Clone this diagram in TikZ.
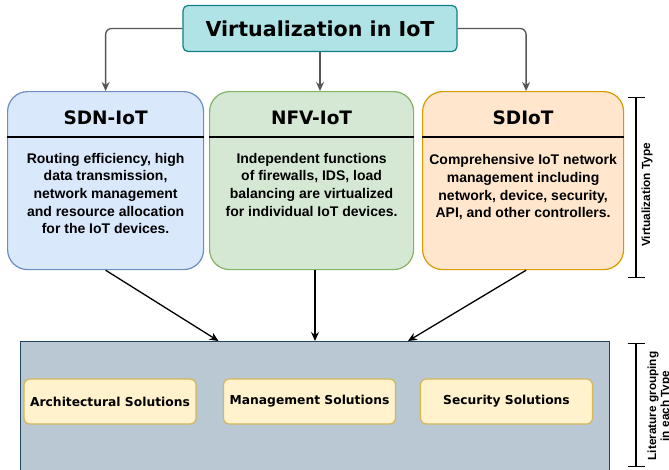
\documentclass[tikz,border=0pt]{standalone}
\usepackage{fontspec}
\setmainfont{Liberation Sans}
\newfontfamily\dvsans{DejaVu Sans}
\usetikzlibrary{arrows.meta}

\definecolor{titlefill}{HTML}{B0E3E6}
\definecolor{titleline}{HTML}{0E8088}
\definecolor{sdnfill}{HTML}{DAE8FC}
\definecolor{sdnline}{HTML}{6C8EBF}
\definecolor{nfvfill}{HTML}{D5E8D4}
\definecolor{nfvline}{HTML}{82B366}
\definecolor{sdiotfill}{HTML}{FFE6CC}
\definecolor{sdiotline}{HTML}{D79B00}
\definecolor{grpfill}{HTML}{BAC8D3}
\definecolor{grpline}{HTML}{23445D}
\definecolor{solfill}{HTML}{FFF2CC}
\definecolor{solline}{HTML}{D6B656}
\definecolor{connline}{HTML}{555555}

\tikzset{
  lane/.style={draw, line width=1.2pt, rounded corners=20pt, minimum width=196pt, minimum height=178pt, anchor=north west},
  head/.style={font=\dvsans\bfseries\fontsize{18.5}{22}\selectfont},
  body/.style={font=\bfseries\fontsize{14}{17.6}\selectfont, align=center, inner sep=0pt, anchor=north},
  sol/.style={draw=solline, fill=solfill, line width=1.2pt, rounded corners=6pt, minimum width=172pt, minimum height=45pt, font=\dvsans\bfseries\fontsize{12.3}{15}\selectfont},
  conn/.style={draw=connline, line width=1.3pt, rounded corners=6pt, -{Stealth[length=9pt, width=8pt]}},
  flow/.style={draw=black, line width=1.3pt, -{Stealth[length=9pt, width=8pt]}},
  brace/.style={line width=1.3pt, {Bar[width=17pt]}-{Bar[width=17pt]}},
  side/.style={rotate=90, align=center, font=\bfseries\fontsize{11.8}{13}\selectfont}
}

\begin{document}
\begin{tikzpicture}[x=1pt, y=-1pt]
\useasboundingbox (0, 0) rectangle (669, 469);
\clip (0, 0) rectangle (669, 469);

% Top
\node[draw=titleline, fill=titlefill, line width=1.2pt, rounded corners=5pt, minimum width=274pt, minimum height=46pt,
  font=\dvsans\bfseries\fontsize{20.6}{24}\selectfont] (title) at (320, 28.5) {Virtualization in IoT};

% Types
\node[lane, draw=sdnline, fill=sdnfill] (sdn) at (7, 91) {};
\node[lane, draw=nfvline, fill=nfvfill, minimum width=204pt] (nfv) at (209, 91) {};
\node[lane, draw=sdiotline, fill=sdiotfill, minimum width=201pt] (sdiot) at (422, 91) {};
\draw[line width=1.2pt] (sdn.west |- 0, 137) -- (sdn.east |- 0, 137);
\draw[line width=1.2pt] (nfv.west |- 0, 137) -- (nfv.east |- 0, 137);
\draw[line width=1.2pt] (sdiot.west |- 0, 137) -- (sdiot.east |- 0, 137);

\node[head] (sdnhead) at (sdn.north |- 0, 118) {SDN-IoT};
\node[head] (nfvhead) at (nfv.north |- 0, 118) {NFV-IoT};
\node[head] (sdiothead) at (sdiot.north |- 0, 118) {SDIoT};

\node[body] (sdnbody) at (sdn.north |- 0, 153) {Routing efficiency, high\\data transmission,\\network management\\and resource allocation\\for the IoT devices.};
\node[body] (nfvbody) at (nfv.north |- 0, 153) {Independent functions\\of firewalls, IDS, load\\balancing are virtualized\\for individual IoT devices.};
\node[body] (sdiotbody) at (sdiot.north |- 0, 154.5) {Comprehensive IoT network\\management including\\network, device, security,\\API, and other controllers.};

\draw[conn] (title.west) -| (sdn.north);
\draw[conn] (title.south) -- (title.south |- nfv.north);
\draw[conn] (title.east) -| ([xshift=3pt]sdiot.north);

% Grouping
\node[draw=grpline, fill=grpfill, line width=1pt, minimum width=589pt, minimum height=150pt, anchor=north west] (grp) at (20, 341) {};
\node[sol] (arch) at (110, 401.5) {Architectural Solutions};
\node[sol] (mgmt) at (309.5, 401.5) {Management Solutions};
\node[sol] (sec) at (506.5, 401.5) {Security Solutions};

\draw[flow] (sdn.south) -- ([xshift=-96.5pt]grp.north);
\draw[flow] (grp.north |- nfv.south) -- (grp.north);
\draw[flow] ([xshift=3pt]sdiot.south) -- ([xshift=93pt]grp.north);

% Side labels
\draw[brace] (636, 97) -- (636, 278);
\node[side] (typelabel) at (647, 195) {Virtualization Type};
\draw[brace] (636, 343) -- (636, 467);
\node[side] (grouplabel) at (659.5, 406) {Literature grouping\\in each Type};
\end{tikzpicture}
\end{document}
